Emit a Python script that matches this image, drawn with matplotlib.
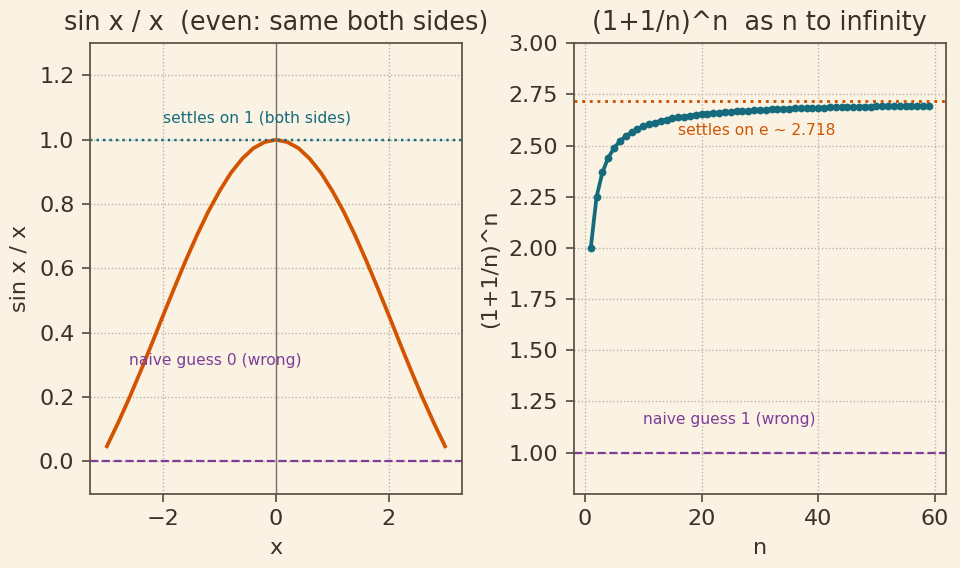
import numpy as np
import matplotlib.pyplot as plt

# sin x / x sampled on [-3, 3]
x_vals = [-3.0, -2.8, -2.6, -2.4, -2.2, -2.0, -1.8, -1.6, -1.4, -1.2, -1.0,
          -0.8, -0.6, -0.4, -0.2, 0.0, 0.2, 0.4, 0.6, 0.8, 1.0,
          1.2, 1.4, 1.6, 1.8, 2.0, 2.2, 2.4, 2.6, 2.8, 3.0]
sinc_vals = [0.047, 0.120, 0.198, 0.281, 0.367, 0.455, 0.541, 0.625, 0.704, 0.777, 0.841,
             0.897, 0.941, 0.974, 0.993, 1.000, 0.993, 0.974, 0.941, 0.897, 0.841,
             0.777, 0.704, 0.625, 0.541, 0.455, 0.367, 0.281, 0.198, 0.120, 0.047]

# (1+1/n)^n for n = 1..59
n_vals = list(range(1, 60))
seq_vals = [2.000, 2.250, 2.370, 2.441, 2.488, 2.522, 2.546, 2.566, 2.581, 2.594,
            2.604, 2.613, 2.621, 2.627, 2.633, 2.638, 2.642, 2.646, 2.650, 2.653,
            2.656, 2.658, 2.661, 2.663, 2.666, 2.667, 2.669, 2.671, 2.673, 2.674,
            2.676, 2.677, 2.678, 2.679, 2.681, 2.682, 2.683, 2.683, 2.684, 2.685,
            2.686, 2.687, 2.687, 2.688, 2.689, 2.689, 2.690, 2.691, 2.691, 2.692,
            2.692, 2.693, 2.693, 2.694, 2.694, 2.694, 2.695, 2.695, 2.696]

bg = "#faf3e4"
txt = "#3a3128"
spine = "#5e5445"
orange = "#d35400"
teal = "#156b7c"
purple = "#7d3c98"

plt.rcParams.update({
    "figure.facecolor": bg,
    "axes.facecolor": bg,
    "axes.edgecolor": spine,
    "axes.labelcolor": txt,
    "xtick.color": spine,
    "ytick.color": spine,
    "xtick.labelcolor": txt,
    "ytick.labelcolor": txt,
    "text.color": txt,
    "font.size": 10,
})

fig, (ax1, ax2) = plt.subplots(1, 2, figsize=(6, 3.55), dpi=160)

# left panel
ax1.plot(x_vals, sinc_vals, color=orange, lw=1.7)
ax1.axhline(1.0, color=teal, ls=":", lw=1.1)
ax1.axhline(0.0, color=purple, ls="--", lw=1.0)
ax1.axvline(0.0, color="#7a7066", lw=0.6)
ax1.text(-2.0, 1.055, "settles on 1 (both sides)", color=teal, fontsize=7)
ax1.text(-2.6, 0.30, "naive guess 0 (wrong)", color=purple, fontsize=7)
ax1.set_ylim(-0.1, 1.3)
ax1.set_title("sin x / x  (even: same both sides)", fontsize=11.5)
ax1.set_xlabel("x")
ax1.set_ylabel("sin x / x")
ax1.grid(True, ls=":", color="#b9b0a3", lw=0.6)

# right panel
ax2.plot(n_vals, seq_vals, color=teal, lw=1.7, marker="o", ms=2.5)
ax2.axhline(np.e, color=orange, ls=":", lw=1.3)
ax2.axhline(1.0, color=purple, ls="--", lw=1.0)
ax2.text(16, 2.55, "settles on e ~ 2.718", color=orange, fontsize=7)
ax2.text(10, 1.14, "naive guess 1 (wrong)", color=purple, fontsize=7)
ax2.set_ylim(0.8, 3.0)
ax2.set_title("(1+1/n)^n  as n to infinity", fontsize=11.5)
ax2.set_xlabel("n")
ax2.set_ylabel("(1+1/n)^n")
ax2.grid(True, ls=":", color="#b9b0a3", lw=0.6)

plt.tight_layout(pad=0.45, w_pad=0.8)
plt.savefig("out.png", dpi=160)
